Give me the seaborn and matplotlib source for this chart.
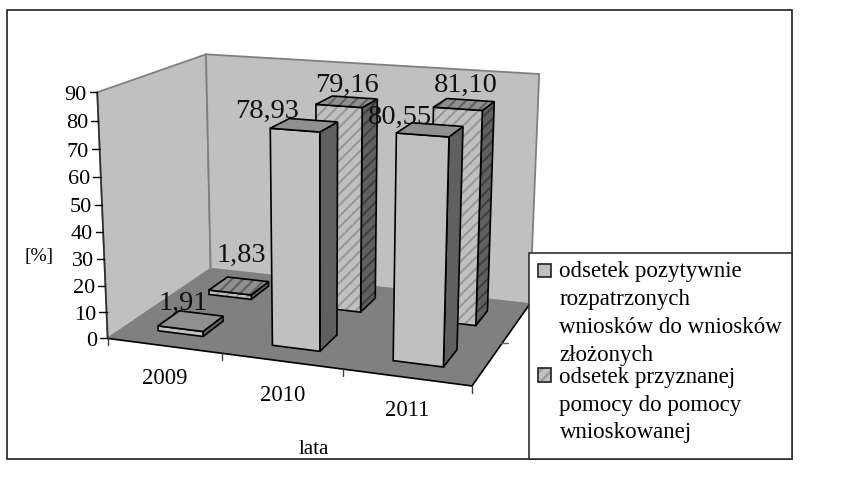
"""3D column chart: odsetek wnioskow i pomocy, lata 2009-2011."""

import numpy as np
import pandas as pd
import seaborn as sns
import matplotlib.pyplot as plt
from matplotlib.patches import Polygon, Rectangle

# -----------------------------------
# Data
# -----------------------------------

years = ["2009", "2010", "2011"]
positive_requests = [1.91, 78.93, 80.55]
granted_aid = [1.83, 79.16, 81.10]
value_ticks = [0, 10, 20, 30, 40, 50, 60, 70, 80, 90]

legend_first = ["odsetek pozytywnie", "rozpatrzonych", "wniosków do wniosków", "złożonych"]
legend_second = ["odsetek przyznanej", "pomocy do pomocy", "wnioskowanej"]

data = pd.DataFrame({
    "rok": years * 2,
    "kat": [0, 1, 2] * 2,
    "seria": [0] * 3 + [1] * 3,
    "wartosc": positive_requests + granted_aid,
})

# -----------------------------------
# Matplotlib configuration
# -----------------------------------

sns.set_theme(style="white")
plt.rcParams["font.family"] = ["Liberation Serif", "DejaVu Serif"]
plt.rcParams["hatch.linewidth"] = 1.5

wall, floor_col, side, top, stripe = sns.color_palette(
    ["#C0C0C0", "#808080", "#606060", "#909090", "#989898"]
)
stripe_side, stripe_top = sns.color_palette(["#404040", "#606060"])

fig = plt.figure(figsize=(8.41, 4.91), dpi=100)
ax = fig.add_axes([0, 0, 1, 1])
ax.set_xlim(0, 841)
ax.set_ylim(491, 0)
ax.axis("off")

# -----------------------------------
# Perspective of the box: fit from its visible corners
# -----------------------------------

box_unit = np.array([
    [0, 0, 0], [1, 0, 0], [0, 1, 0], [1, 1, 0],
    [0, 0, 1], [0, 1, 1], [1, 1, 1],
], dtype=float)
box_px = np.array([
    [107.7, 338.0], [471.7, 386.7], [210.7, 269.3], [530.0, 303.0],
    [97.5, 92.0], [205.7, 54.3], [539.3, 74.3],
])

rows, rhs = [], []
for (x, y, z), (u, v) in zip(box_unit, box_px):
    rows.append([x, y, z, 1, 0, 0, 0, 0, -u * x, -u * y, -u * z])
    rows.append([0, 0, 0, 0, x, y, z, 1, -v * x, -v * y, -v * z])
    rhs += [u, v]
coef = np.linalg.lstsq(np.array(rows), np.array(rhs), rcond=None)[0]
P = np.append(coef, 1).reshape(3, 4)


def project(x, depth, value):
    p = P @ np.array([x, depth, value / value_ticks[-1], 1.0])
    return p[0] / p[2], p[1] / p[2]


def face(points, fc, hatch_col=None):
    pts = [project(*p) for p in points]
    if hatch_col is not None:
        ax.add_patch(Polygon(pts, facecolor=fc, edgecolor=hatch_col, hatch="///", lw=0))
    else:
        ax.add_patch(Polygon(pts, facecolor=fc, edgecolor="none"))
    ax.add_patch(Polygon(pts, fill=False, edgecolor="black", lw=1.2, joinstyle="miter"))


# -----------------------------------
# Outer frame
# -----------------------------------

ax.add_patch(Rectangle((7.5, 9.5), 784.2, 449.5, fill=False, edgecolor="#202020", lw=1.2))

# -----------------------------------
# Walls and floor
# -----------------------------------

zmax = value_ticks[-1]
left_wall = [project(0, 0, 0), project(0, 1, 0), project(0, 1, zmax), project(0, 0, zmax)]
back_wall = [project(0, 1, 0), project(1, 1, 0), project(1, 1, zmax), project(0, 1, zmax)]
floor = [project(0, 0, 0), project(1, 0, 0), project(1, 1, 0), project(0, 1, 0)]

for wall_pts in [left_wall, back_wall]:
    ax.add_patch(Polygon(wall_pts, facecolor=wall, edgecolor="#808080", lw=1.3))
ax.add_patch(Polygon(floor, facecolor=floor_col, edgecolor="none"))

# axis lines
ax.plot(*zip(project(0, 0, 0), project(0, 0, zmax)), color="#303030", lw=1.2)
ax.plot(*zip(project(0, 0, 0), project(1, 0, 0)), color="black", lw=1.2)
ax.plot(*zip(project(1, 0, 0), project(1, 1, 0)), color="black", lw=1.2)

# value ticks
for tick in value_ticks:
    u, v = project(0, 0, tick)
    ax.plot([u - 7.5, u], [v, v], color="black", lw=1.0)
    ax.text(u - 10.5, v + 7.5, str(tick), ha="right", va="baseline", fontsize=16, color="black")

# category ticks
for i in range(len(years) + 1):
    u, v = project(i / len(years), 0, 0)
    ax.plot([u, u], [v, v + 7], color="#404040", lw=1.0)

# depth tick
u, v = project(1, 0.5, 0)
ax.plot([u - 2, u + 5], [v + 1, v + 1], color="#606060", lw=1.0)

# category labels
for i, (name, dx, dy) in enumerate(zip(years, [1, 1, 0], [38, 40, 39])):
    u, v = project((i + 0.5) / len(years), 0, 0)
    ax.text(u + dx, v + dy, name, ha="center", va="baseline", fontsize=16.3, color="black")

# -----------------------------------
# Bars, back row first
# -----------------------------------

n_cat = len(years)
x_pad, x_bar = 0.3, 0.4
depth_rows = {0: (0.15, 0.35), 1: (0.65, 0.85)}

for seria in [1, 0]:
    for _, row in data[data["seria"] == seria].iterrows():
        x0 = (row["kat"] + x_pad) / n_cat
        x1 = (row["kat"] + x_pad + x_bar) / n_cat
        d0, d1 = depth_rows[seria]
        val = row["wartosc"]
        hatched = seria == 1
        face([(x1, d0, 0), (x1, d1, 0), (x1, d1, val), (x1, d0, val)], side,
             stripe_side if hatched else None)
        face([(x0, d0, 0), (x1, d0, 0), (x1, d0, val), (x0, d0, val)], wall,
             stripe if hatched else None)
        face([(x0, d0, val), (x1, d0, val), (x1, d1, val), (x0, d1, val)], top,
             stripe_top if hatched else None)

# -----------------------------------
# Data labels, offset from the centre of each bar top
# -----------------------------------

label_dx = {0: [-7.5, -37, -30], 1: [2, 0, 2]}
label_dy = {0: [-11, -7, -6], 1: [-24, -10, -12]}

for _, row in data.iterrows():
    seria, kat, val = row["seria"], row["kat"], row["wartosc"]
    d0, d1 = depth_rows[seria]
    u, v = project((kat + x_pad + x_bar / 2) / n_cat, (d0 + d1) / 2, val)
    ax.text(u + label_dx[seria][kat], v + label_dy[seria][kat],
            f"{val:.2f}".replace(".", ","), ha="center", va="baseline",
            fontsize=20.5, color="#101010")

# -----------------------------------
# Axis titles
# -----------------------------------

ax.text(39, 261.5, "[%]", ha="center", va="baseline", fontsize=14, color="black")
ax.text(314, 454, "lata", ha="center", va="baseline", fontsize=15, color="black")

# -----------------------------------
# Legend
# -----------------------------------

ax.add_patch(Rectangle((529.5, 252.5), 262.2, 206.5, facecolor="white",
                       edgecolor="#303030", lw=1.2, zorder=5))
ax.add_patch(Rectangle((538, 263.5), 13.5, 13.5, facecolor=wall,
                       edgecolor="#202020", lw=1.2, zorder=6))
ax.add_patch(Rectangle((538, 368), 13.5, 13.5, facecolor=wall,
                       edgecolor=stripe, hatch="///", lw=0, zorder=6))
ax.add_patch(Rectangle((538, 368), 13.5, 13.5, fill=False,
                       edgecolor="#202020", lw=1.2, zorder=6))

for line, base in zip(legend_first + legend_second, [277.5, 305.5, 333, 361, 382.5, 411.5, 438]):
    ax.text(559.5, base, line, ha="left", va="baseline", fontsize=16.5,
            color="black", zorder=6)

plt.savefig("out.png", dpi=100)
